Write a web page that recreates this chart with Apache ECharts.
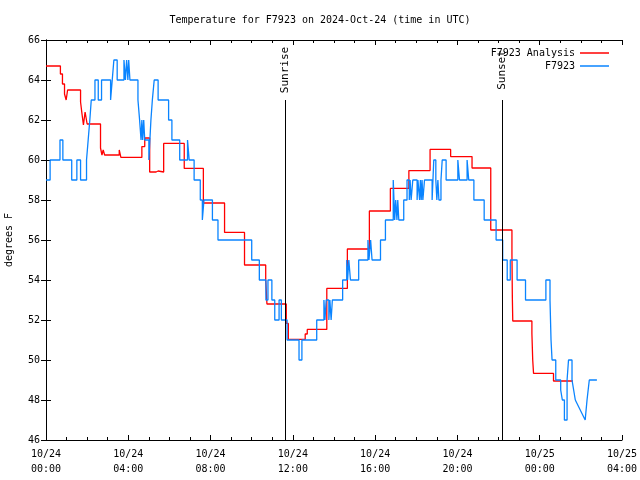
<!DOCTYPE html>
<html>
<head>
<meta charset="utf-8">
<script src="https://cdn.jsdelivr.net/npm/echarts@6/dist/echarts.min.js"></script>
<style>html,body{margin:0;padding:0;background:#fff}#c{width:640px;height:480px}</style>
</head>
<body>
<div id="c"></div>
<script>
// ---- data ----
const xTickLabels = ['10/24\n00:00','10/24\n04:00','10/24\n08:00','10/24\n12:00','10/24\n16:00','10/24\n20:00','10/25\n00:00','10/25\n04:00'];
const seriesNames = ['F7923 Analysis', 'F7923'];
// hours since 10/24 00:00 UTC; value holds from this time until the next one
const analysisHours = [0,0.7,0.8,0.9,0.98,1.05,1.68,1.75,1.82,1.9,1.95,2.0,2.65,2.72,2.78,2.85,3.56,3.64,4.66,4.8,5.04,5.35,5.45,5.72,6.72,7.65,8.68,9.65,10.68,10.74,11.68,11.78,12.6,12.7,13.65,14.65,15.72,16.74,17.64,18.67,19.67,20.71,21.62,22.65,22.67,22.69,23.62,23.66,23.7,24.67,25.62];
const analysisTemps = [64.7,64.3,63.8,63.3,63.0,63.5,62.9,62.3,61.75,62.4,62.1,61.8,60.6,60.25,60.5,60.25,60.5,60.13,60.67,61.1,59.4,59.45,59.4,60.83,59.58,57.85,56.38,54.75,54.0,52.8,51.83,51.03,51.3,51.53,53.58,55.55,57.45,58.58,59.47,60.53,60.17,59.6,56.5,55.3,53.1,51.95,51.33,50.0,49.33,48.95,48.95];
const stationHours = [0,0.2,0.68,0.82,1.25,1.5,1.68,1.97,2.05,2.13,2.2,2.38,2.54,2.7,3.14,3.22,3.3,3.46,3.79,3.86,3.92,3.98,4.02,4.08,4.47,4.55,4.62,4.66,4.7,4.75,4.8,5.0,5.05,5.1,5.17,5.26,5.45,5.96,6.12,6.5,6.88,6.96,7.2,7.5,7.6,7.68,8.09,8.36,10.0,10.37,10.69,10.79,10.98,11.12,11.33,11.44,11.72,12.3,12.44,13.16,13.51,13.56,13.62,13.75,13.8,13.86,13.92,14.42,14.62,14.66,14.72,14.8,15.2,15.65,15.7,15.78,15.85,16.26,16.5,16.88,16.95,17.0,17.06,17.1,17.15,17.39,17.55,17.66,17.7,17.75,17.83,18.04,18.08,18.16,18.2,18.24,18.28,18.32,18.4,18.77,18.85,18.95,19.0,19.05,19.1,19.2,19.26,19.45,20.02,20.1,20.47,20.55,20.8,21.3,21.88,22.2,22.42,22.57,22.9,23.31,24.3,24.5,24.55,24.6,24.78,25.02,25.1,25.2,25.33,25.4,25.57,25.65,25.73];
const stationTemps = [59,60,61,60,59,60,59,60,61,62,63,64,63,64,63,64,65,64,65,64,65,64,65,64,63,62,61,62,61,62,61,60,61,62,63,64,63,62,61,60,61,60,59,58,57,58,57,56,55,54,53,54,53,52,53,52,51,50,51,52,53,52,53,52,53,52,53,54,55,54,55,54,55,56,55,56,55,56,57,59,57,58,57,58,57,58,59,58,59,58,59,58,59,58,59,58,59,58,59,58,60,59,58,59,58,59,60,59,60,59,60,59,58,57,56,55,54,55,54,53,54,53,51,50,49,48.5,48,47,49,50,49,48.5,48];
// last samples, drawn point to point
const stationTailHours = [25.73,26.21,26.3,26.41,26.78];
const stationTailTemps = [48,47,48,49,49];
const eventNames = ['Sunrise','Sunset'];
const eventHours = [11.63,22.18];

// ---- build ----
const zip = (a,b) => a.map((v,i)=>[v,b[i]]);
const FONT = 'DejaVu Sans Mono';
const txt = {fontFamily: FONT, fontSize: 10, color: '#000'};
const RED = '#ff0000', BLUE = '#0a84ff';
const EVENT_LINE_TOP = 63, EVENT_LABEL_Y = 64.5;

const axisCommon = {
  axisLine: {show: true, lineStyle: {color: '#000', width: 1}},
  axisTick: {show: true, inside: true, length: 5, lineStyle: {color: '#000'}},
  splitLine: {show: false}
};
const xBase = Object.assign({type: 'value', min: 0, max: 28, interval: 4,
  minorTick: {show: true, splitNumber: 4, length: 3, lineStyle: {color: '#000'}},
  minorSplitLine: {show: false}}, axisCommon);
const yBase = Object.assign({type: 'value', min: 46, max: 66, interval: 2}, axisCommon);

const option = {
  animation: false,
  backgroundColor: '#fff',
  title: {text: 'Temperature for F7923 on 2024-Oct-24 (time in UTC)', left: 'center', top: 10,
    textStyle: Object.assign({}, txt, {fontWeight: 'normal'})},
  legend: [
    {data: [seriesNames[0]], right: 26, top: 43, orient: 'vertical', align: 'right',
     icon: 'rect', itemWidth: 29, itemHeight: 1.5, textStyle: txt, itemGap: 2},
    {data: [seriesNames[1]], right: 26, top: 56, orient: 'vertical', align: 'right',
     icon: 'rect', itemWidth: 29, itemHeight: 1.5, textStyle: txt, itemGap: 2}
  ],
  grid: {left: 46, right: 18, top: 40, bottom: 40, containLabel: false, outerBoundsMode: 'none'},
  xAxis: [
    Object.assign({}, xBase, {position: 'bottom',
      axisLabel: Object.assign({}, txt, {margin: 7, lineHeight: 15,
        formatter: v => xTickLabels[Math.round(v / 4)]})}),
    Object.assign({}, xBase, {position: 'top', axisLabel: {show: false}})
  ],
  yAxis: [
    Object.assign({}, yBase, {position: 'left', name: 'degrees F', nameLocation: 'middle',
      nameGap: 32, nameRotate: 90, nameTextStyle: txt,
      axisLabel: Object.assign({}, txt, {margin: 6})}),
    Object.assign({}, yBase, {position: 'right', axisLabel: {show: false}})
  ],
  series: [
    {name: seriesNames[0], type: 'line', step: 'end', showSymbol: false, symbol: 'none',
     data: zip(analysisHours, analysisTemps), lineStyle: {color: RED, width: 1.3},
     itemStyle: {color: RED}, z: 3},
    {name: seriesNames[1], type: 'line', step: 'end', showSymbol: false, symbol: 'none',
     data: zip(stationHours, stationTemps), lineStyle: {color: BLUE, width: 1.3},
     itemStyle: {color: BLUE}, z: 4},
    {name: seriesNames[1], type: 'line', showSymbol: false, symbol: 'none',
     data: zip(stationTailHours, stationTailTemps), lineStyle: {color: BLUE, width: 1.3},
     itemStyle: {color: BLUE}, z: 4},
    {name: 'events', type: 'scatter', symbolSize: 0, silent: true,
     data: eventHours.map((h,i)=>({value: [h, EVENT_LABEL_Y], name: eventNames[i]})),
     label: {show: true, position: 'inside', rotate: 90, formatter: p => p.name,
       fontFamily: FONT, fontSize: 11, color: '#000', opacity: 1},
     markLine: {silent: true, symbol: 'none', label: {show: false},
       lineStyle: {color: '#000', width: 1, type: 'solid'},
       data: eventHours.map(h => [{coord: [h, 46]}, {coord: [h, EVENT_LINE_TOP]}])},
     z: 5}
  ]
};
const chart = echarts.init(document.getElementById('c'), null, {renderer: 'canvas'});
chart.setOption(option);
</script>
</body>
</html>
